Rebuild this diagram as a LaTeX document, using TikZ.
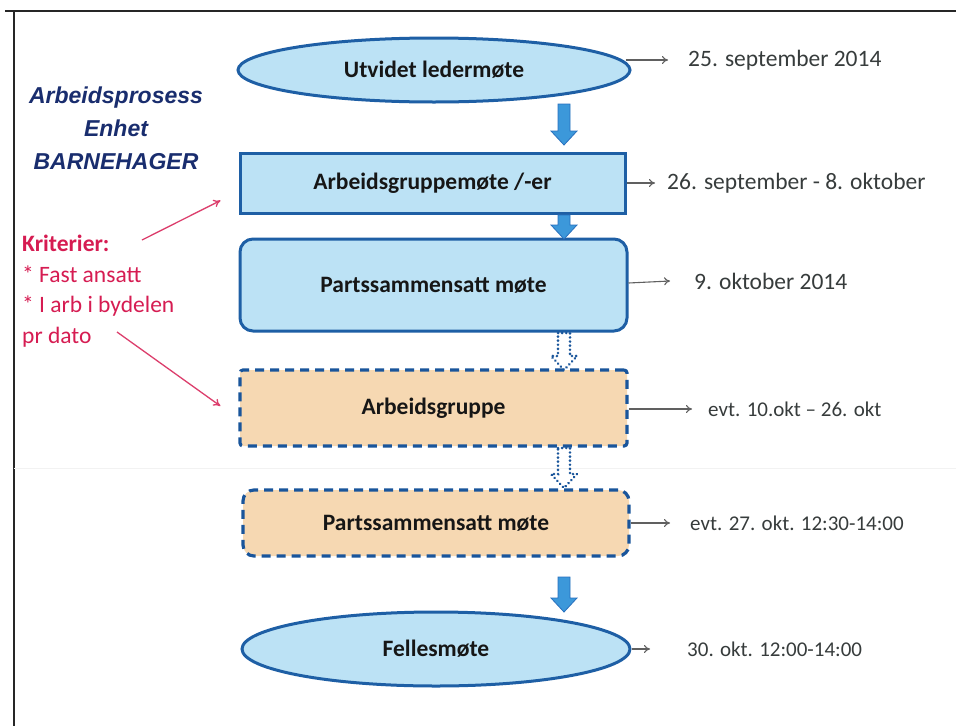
\documentclass[tikz,border=0pt]{standalone}
\usepackage{fontspec}
\setmainfont{Carlito}
\newfontfamily\arialfont{Liberation Sans}
\usetikzlibrary{shapes.geometric,calc,arrows.meta}

\definecolor{boxfill}{RGB}{188,226,245}
\definecolor{boxline}{RGB}{30,95,165}
\definecolor{peach}{RGB}{246,216,178}
\definecolor{dashline}{RGB}{25,85,155}
\definecolor{arrowfill}{RGB}{60,152,218}
\definecolor{arrowline}{RGB}{40,112,190}
\definecolor{titlenavy}{RGB}{25,45,110}
\definecolor{crimson}{RGB}{214,28,82}
\definecolor{datetext}{RGB}{55,60,60}
\definecolor{boxtext}{RGB}{22,22,22}

\tikzset{
  boxlabel/.style={font=\bfseries\fontsize{23.5}{26}\selectfont, text=boxtext},
  oval/.style={ellipse, draw=boxline, line width=3pt, fill=boxfill, inner sep=0pt, boxlabel},
  plainbox/.style={rectangle, draw=boxline, line width=3pt, fill=boxfill, inner sep=0pt, boxlabel},
  optbox/.style={rectangle, draw=dashline, line width=3.2pt, fill=peach, inner sep=0pt,
    dash pattern=on 9pt off 6pt, boxlabel},
  datelabel/.style={anchor=west, inner sep=0pt, text=datetext},
  datearrow/.style={draw=gray!75!black, line width=1.1pt, -{To[length=6pt,width=8pt]}},
  redarrow/.style={draw=crimson!85, line width=1.3pt, -{To[length=7pt,width=8pt]}},
  fatarrow/.style={fill=arrowfill, draw=arrowline, line width=0.8pt},
  hollowarrow/.style={draw=dashline, line width=2.8pt, dash pattern=on 0.1pt off 4pt, line cap=round},
}

% block arrow from #2 (tail) down to #3 (tip), drawn with style #1
\newcommand\blockarrow[3]{%
  \path[#1] ($(#2)+(-6,0)$) -- ($(#2)+(6,0)$) -- ($(#3)+(6,-14)$) -- ($(#3)+(13,-14)$)
    -- (#3) -- ($(#3)+(-13,-14)$) -- ($(#3)+(-6,-14)$) -- cycle;}

\begin{document}
\begin{tikzpicture}[x=1pt,y=-1pt]
\useasboundingbox (0,0) rectangle (956,726);
\fill[white] (0,0) rectangle (956,726);

% frame
\draw[line width=2.6pt, black!85] (5,11) -- (956,11);
\draw[line width=2.6pt, black!85] (14,11) -- (14,726);
% faint fold line
\draw[line width=1pt, black!5] (14,468) -- (956,468);

% main flow
\node[oval, minimum width=392pt, minimum height=64pt] (e1) at (434,70) {Utvidet ledermøte};
\node[plainbox, minimum width=385pt, minimum height=60pt] (r2) at (432.5,183) {Arbeidsgruppemøte /-er};
\node[plainbox, rounded corners=13pt, minimum width=387pt, minimum height=92pt] (r3) at (433.5,285) {Partssammensatt møte};
\node[optbox, rounded corners=3pt, minimum width=387pt, minimum height=76pt] (r4) at (433.5,408) {Arbeidsgruppe};
\node[optbox, rounded corners=11pt, minimum width=386pt, minimum height=66pt] (r5) at (436,523) {Partssammensatt møte};
\node[oval, minimum width=388pt, minimum height=74pt] (e6) at (436,649) {Fellesmøte};

% arrows between the steps
\coordinate (a1t) at (564,104); \coordinate (a1h) at (564,145);
\coordinate (a2t) at (564,215); \coordinate (a2h) at (564,239);
\coordinate (a3t) at (564,333); \coordinate (a3h) at (564,370);
\coordinate (a4t) at (564,448); \coordinate (a4h) at (564,488);
\coordinate (a5t) at (564,577); \coordinate (a5h) at (564,612);
\blockarrow{fatarrow}{a1t}{a1h}
\blockarrow{fatarrow}{a2t}{a2h}
\blockarrow{hollowarrow}{a3t}{a3h}
\blockarrow{hollowarrow}{a4t}{a4h}
\blockarrow{fatarrow}{a5t}{a5h}

% dates
\begin{scope}[font=\fontsize{23.5}{26}\selectfont]
\node[datelabel] (d1) at (688,60) {25. september 2014};
\node[datelabel] (d2) at (667,183) {26. september - 8. oktober};
\node[datelabel] (d3) at (694,281) {9. oktober 2014};
\end{scope}
\begin{scope}[font=\fontsize{21}{24}\selectfont]
\node[datelabel] (d4) at (708,409) {evt. 10.okt – 26. okt};
\node[datelabel] (d5) at (690,523) {evt. 27. okt. 12:30-14:00};
\node[datelabel] (d6) at (687,649) {30. okt. 12:00-14:00};
\end{scope}
\draw[datearrow] (e1.east |- d1.west) ++(-6,0) -- ([xshift=-20pt]d1.west);
\draw[datearrow] (r2.east |- d2.west) -- ([xshift=-12pt]d2.west);
\draw[datearrow] (r3.east |- d3.west) ++(0,2) -- ([xshift=-24pt]d3.west);
\draw[datearrow] (r4.east |- d4.west) -- ([xshift=-16pt]d4.west);
\draw[datearrow] (r5.east |- d5.west) -- ([xshift=-20pt]d5.west);
\draw[datearrow] (e6.east |- d6.west) -- ([xshift=-37pt]d6.west);

% heading
\node[font=\arialfont\bfseries\itshape\fontsize{23}{33}\selectfont, text=titlenavy,
  align=center, inner sep=0pt] (title) at (116,128)
  {Arbeidsprosess\\Enhet\\BARNEHAGER};

% criteria
\node[font=\fontsize{23.5}{30.5}\selectfont, text=crimson, align=left, anchor=north west,
  inner sep=0pt] (crit) at (22,235)
  {\textbf{Kriterier:}\\* Fast ansatt\\* I arb i bydelen\\pr dato};
\coordinate (c1) at (142,240);
\coordinate (c2) at (117,332);
\draw[redarrow] (c1) -- ([shift={(-18pt,14pt)}]r2.south west);
\draw[redarrow] (c2) -- ([shift={(-18pt,2pt)}]r4.west);
\end{tikzpicture}
\end{document}
